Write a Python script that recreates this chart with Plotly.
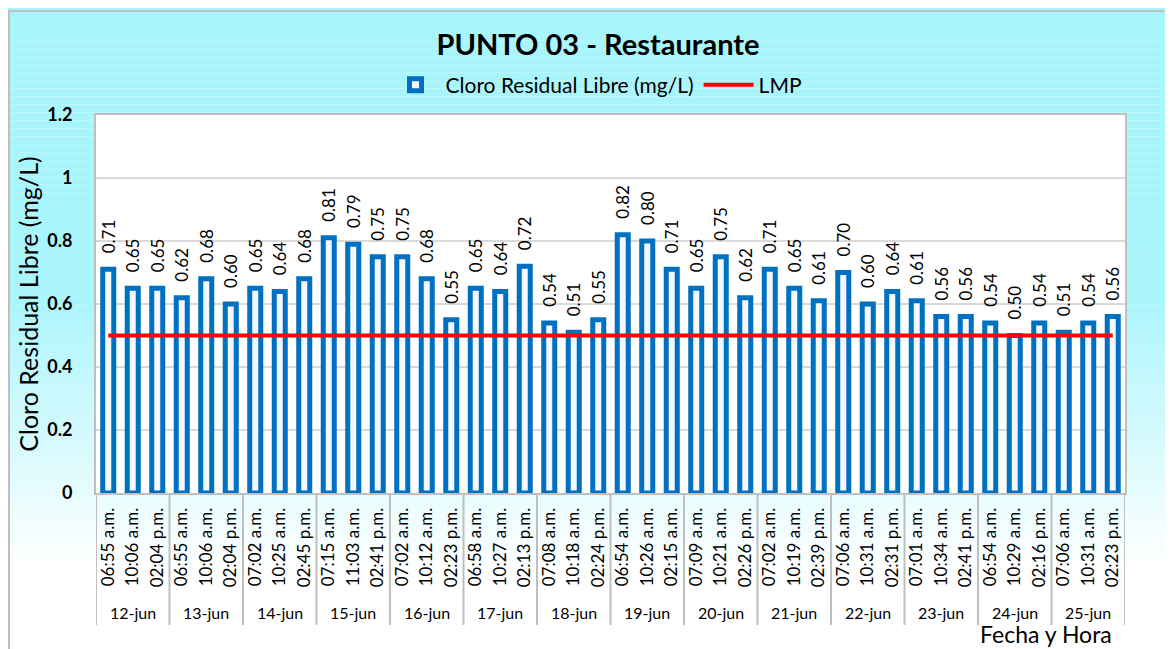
import plotly.graph_objects as go

dates = ["12-jun", "13-jun", "14-jun", "15-jun", "16-jun", "17-jun", "18-jun",
         "19-jun", "20-jun", "21-jun", "22-jun", "23-jun", "24-jun", "25-jun"]
times = [
    ["06:55 a.m.", "10:06 a.m.", "02:04 p.m."],
    ["06:55 a.m.", "10:06 a.m.", "02:04 p.m."],
    ["07:02 a.m.", "10:25 a.m.", "02:45 p.m."],
    ["07:15 a.m.", "11:03 a.m.", "02:41 p.m."],
    ["07:02 a.m.", "10:12 a.m.", "02:23 p.m."],
    ["06:58 a.m.", "10:27 a.m.", "02:13 p.m."],
    ["07:08 a.m.", "10:18 a.m.", "02:24 p.m."],
    ["06:54 a.m.", "10:26 a.m.", "02:15 a.m."],
    ["07:09 a.m.", "10:21 a.m.", "02:26 p.m."],
    ["07:02 a.m.", "10:19 a.m.", "02:39 p.m."],
    ["07:06 a.m.", "10:31 a.m.", "02:31 p.m."],
    ["07:01 a.m.", "10:34 a.m.", "02:41 p.m."],
    ["06:54 a.m.", "10:29 a.m.", "02:16 p.m."],
    ["07:06 a.m.", "10:31 a.m.", "02:23 p.m."],
]
cloro = [0.71, 0.65, 0.65, 0.62, 0.68, 0.60, 0.65, 0.64, 0.68,
         0.81, 0.79, 0.75, 0.75, 0.68, 0.55, 0.65, 0.64, 0.72,
         0.54, 0.51, 0.55, 0.82, 0.80, 0.71, 0.65, 0.75, 0.62,
         0.71, 0.65, 0.61, 0.70, 0.60, 0.64, 0.61, 0.56, 0.56,
         0.54, 0.50, 0.54, 0.51, 0.54, 0.56]
lmp = 0.5

keys = [f"{d} {t}" for d, ts in zip(dates, times) for t in ts]
tlabels = [t for ts in times for t in ts]

FONT = "Lato"
OFF = 8  # page body margin
W, H = 1165, 641
L, T = 96 - OFF, 115 - OFF
R = W - (1125 - OFF)
B = H - (493 - OFF)
pw, ph = W - L - R, H - T - B


def px_x(p):
    return (p - OFF - L) / pw


def px_y(p):
    return (H - B - (p - OFF)) / ph


fig = go.Figure()
fig.add_trace(go.Bar(
    x=keys, y=cloro, name="Cloro Residual Libre (mg/L)",
    marker=dict(color="#F2F8FD", line=dict(color="#0070C0", width=5)),
    width=0.45,
    text=["\u00a0\u00a0\u00a0" + f"{v:.2f}" for v in cloro],
    textposition="outside", textangle=-90,
    textfont=dict(family=FONT, size=17, color="black"),
    constraintext="none", cliponaxis=False,
))
fig.add_trace(go.Scatter(
    x=[keys[0], keys[-1]], y=[lmp, lmp], name="LMP",
    mode="lines", line=dict(color="#FF0000", width=4),
))

shapes = []
# vertical gradient background (cyan -> white)
top_c = (169, 245, 252)
n = 80
y0p, y1p = OFF, H + OFF + 2
for i in range(n):
    a = y0p + (y1p - y0p) * i / n
    b = y0p + (y1p - y0p) * (i + 1) / n
    mid = (a + b) / 2
    if mid < 300:
        f = 0.0
    elif mid > 570:
        f = 1.0
    else:
        f = (mid - 300) / 270
    c = tuple(int(round(tc + (255 - tc) * f)) for tc in top_c)
    shapes.append(dict(type="rect", xref="paper", yref="paper", layer="below",
                       x0=px_x(OFF), x1=px_x(W + OFF + 5), y0=px_y(b), y1=px_y(a),
                       fillcolor=f"rgb{c}", line=dict(width=0)))
# white plot area
shapes.append(dict(type="rect", xref="paper", yref="paper", layer="below",
                   x0=0, x1=1, y0=0, y1=1, fillcolor="white", line=dict(width=0)))
# outer frame
shapes.append(dict(type="rect", xref="paper", yref="paper", layer="below",
                   x0=px_x(OFF + 1), x1=px_x(W + OFF + 10), y0=px_y(H + OFF + 10), y1=px_y(11),
                   fillcolor="rgba(0,0,0,0)", line=dict(color="#BFBFBF", width=2)))

# group dividers and date labels on the category axis
annotations = []
for g, (d, ts) in enumerate(zip(dates, times)):
    start = sum(len(t) for t in times[:g])
    shapes.append(dict(type="line", xref="x", yref="paper", layer="above",
                       x0=start - 0.5, x1=start - 0.5, y0=px_y(625), y1=0,
                       line=dict(color="#BFBFBF", width=2)))
    annotations.append(dict(text=d, xref="x", yref="paper",
                            x=keys[start + len(ts) // 2], y=px_y(612),
                            xanchor="center", yanchor="middle", showarrow=False,
                            font=dict(family=FONT, size=16, color="black")))
shapes.append(dict(type="line", xref="x", yref="paper", layer="above",
                   x0=len(keys) - 0.5, x1=len(keys) - 0.5, y0=px_y(625), y1=0,
                   line=dict(color="#BFBFBF", width=2)))
annotations.append(dict(text="Fecha y Hora", xref="paper", yref="paper",
                        x=px_x(1046), y=px_y(634), xanchor="center", yanchor="middle",
                        showarrow=False, font=dict(family=FONT, size=23, color="black")))

fig.update_layout(
    width=W, height=H,
    margin=dict(l=L, r=R, t=T, b=B, autoexpand=False),
    paper_bgcolor="white", plot_bgcolor="white",
    shapes=shapes, annotations=annotations,
    title=dict(text="<b>PUNTO 03 - Restaurante</b>", x=(598 - OFF) / W, xanchor="center",
               y=1 - (45 - OFF) / H, yanchor="middle",
               font=dict(family=FONT, size=29, color="black")),
    legend=dict(orientation="h", x=px_x(596), xanchor="center", y=px_y(85), yanchor="middle",
                font=dict(family=FONT, size=21, color="black"), bgcolor="rgba(0,0,0,0)",
                itemwidth=50, tracegroupgap=0),
    bargap=0.37,
    showlegend=True,
)
fig.update_yaxes(range=[0, 1.2], dtick=0.2, tickformat="~g", automargin=False,
                 showgrid=True, gridcolor="#D9D9D9", gridwidth=2,
                 showline=True, linecolor="#BFBFBF", linewidth=2, mirror=True,
                 zeroline=False,
                 tickfont=dict(family=FONT, size=18, color="black", weight="bold"),
                 ticklabelstandoff=18,
                 title=dict(text="Cloro Residual Libre (mg/L)", standoff=1,
                            font=dict(family=FONT, size=25, color="black")))
fig.update_xaxes(type="category", tickangle=-90, automargin=False,
                 tickvals=keys, ticktext=tlabels,
                 tickfont=dict(family=FONT, size=17, color="black"),
                 ticklabelstandoff=6,
                 showline=True, linecolor="#BFBFBF", linewidth=2, mirror=True,
                 ticks="", range=[-0.5, len(keys) - 0.5])

fig.write_html("out.html")
